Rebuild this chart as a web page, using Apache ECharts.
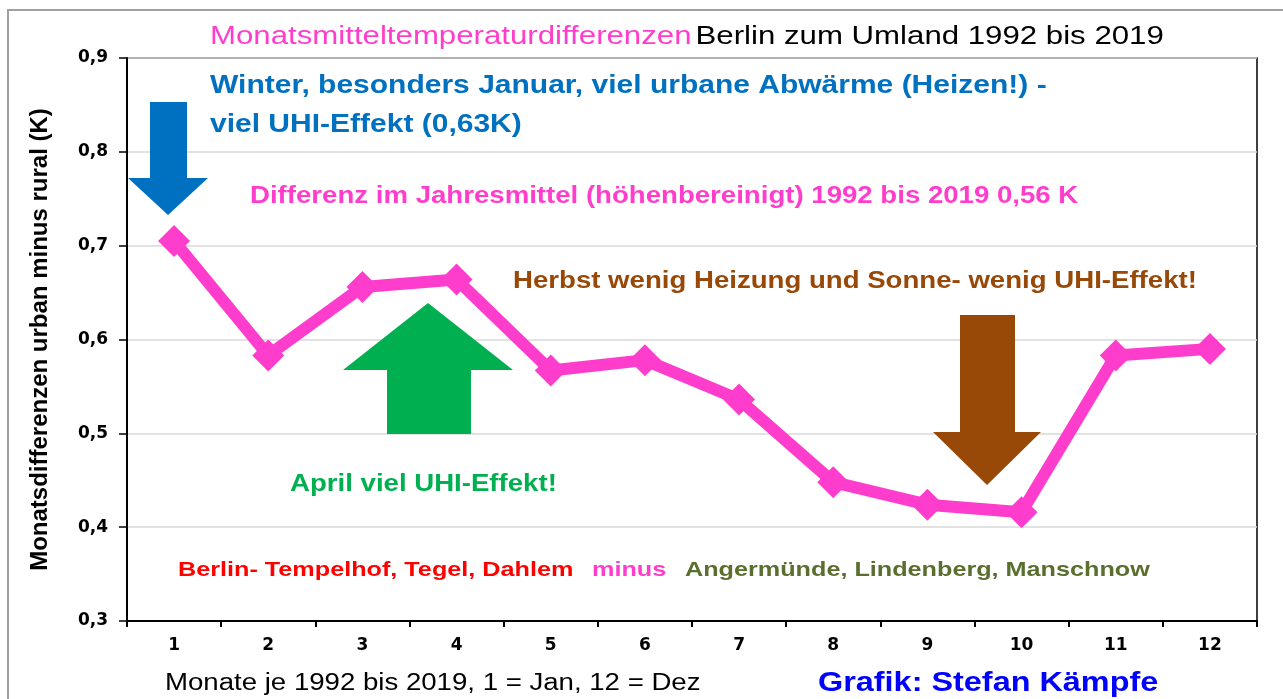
<!DOCTYPE html>
<html>
<head>
<meta charset="utf-8">
<script src="https://cdn.jsdelivr.net/npm/echarts@6/dist/echarts.min.js"></script>
<style>
  html, body { margin: 0; padding: 0; background: #fff; }
  #main { width: 1283px; height: 699px; }
</style>
</head>
<body>
<div id="main"></div>
<script>
// Monate 1..12
var monate = ['1', '2', '3', '4', '5', '6', '7', '8', '9', '10', '11', '12'];
// Differenz urban minus rural (K)
var differenz = [0.705, 0.583, 0.656, 0.664, 0.567, 0.578, 0.536, 0.448, 0.424, 0.416, 0.583, 0.590];
var yTicks = [0.3, 0.4, 0.5, 0.6, 0.7, 0.8, 0.9];

var pink = '#ff3dcc';
var font = 'Liberation Sans, Arial, sans-serif';
var stretch = 1.2; // Vorlage ist horizontal gestreckt

var myChart = echarts.init(document.getElementById('main'));

// Textbaustein, links ausgerichtet, vertikal mittig
function txt(x, y, text, color, size, weight) {
    return {
        type: 'text', x: x, y: y, scaleX: stretch, z: 10,
        style: {
            text: text, fill: color,
            font: (weight || 'bold') + ' ' + size + 'px ' + font,
            verticalAlign: 'middle'
        }
    };
}

var option = {
    backgroundColor: '#fff',
    animation: false,
    grid: {
        left: 127, right: 26, top: 58, bottom: 78,
        show: true, borderColor: '#000', borderWidth: 1.5
    },
    xAxis: {
        type: 'category',
        data: monate,
        boundaryGap: true,
        axisLine: { lineStyle: { color: '#000', width: 2 } },
        axisTick: { show: true, length: 6, lineStyle: { color: '#000', width: 2 } },
        axisLabel: { color: '#000', fontSize: 17, fontWeight: 'bold', fontFamily: 'DejaVu Sans', margin: 16 },
        splitLine: { show: false }
    },
    yAxis: {
        type: 'value',
        min: yTicks[0],
        max: yTicks[yTicks.length - 1],
        interval: 0.1,
        name: 'Monatsdifferenzen urban minus rural (K)',
        nameLocation: 'middle',
        nameGap: 75,
        nameTextStyle: { color: '#000', fontSize: 24, fontWeight: 'bold', fontFamily: font },
        axisLine: { show: true, lineStyle: { color: '#000', width: 2 } },
        axisTick: { show: true, inside: false, length: 8, lineStyle: { color: '#000', width: 1.5 } },
        axisLabel: {
            color: '#000', fontSize: 17, fontWeight: 'bold', fontFamily: 'DejaVu Sans', margin: 19,
            formatter: function (v) { return v.toFixed(1).replace('.', ','); }
        },
        splitLine: { show: true, lineStyle: { color: '#d9d9d9', width: 1.5 } }
    },
    series: [{
        type: 'line',
        data: differenz,
        symbol: 'diamond',
        symbolSize: 32,
        itemStyle: { color: pink },
        lineStyle: { color: pink, width: 12 },
        z: 3
    }],
    graphic: [
        // äußerer Rahmen
        { type: 'rect', shape: { x: 8, y: 10, width: 1300, height: 720 }, style: { fill: null, stroke: '#a0a0a0', lineWidth: 2 }, z: 0, silent: true },
        // Titel
        {
            type: 'text', x: 210, y: 37, scaleX: stretch, z: 10,
            style: {
                text: '{a|Monatsmitteltemperaturdifferenzen} {b|Berlin zum Umland 1992 bis 2019}',
                verticalAlign: 'middle',
                rich: {
                    a: { fill: pink, fontSize: 26, fontFamily: font },
                    b: { fill: '#000', fontSize: 26, fontFamily: font }
                }
            }
        },
        // blauer Pfeil (Winter)
        { type: 'polygon', shape: { points: [[150, 102], [187, 102], [187, 178], [208, 178], [168, 215], [128, 178], [150, 178]] }, style: { fill: '#0070c0' }, z: 5 },
        // grüner Pfeil (April)
        { type: 'polygon', shape: { points: [[387, 434], [471, 434], [471, 370], [513, 370], [428, 303], [343, 370], [387, 370]] }, style: { fill: '#00b050' }, z: 5 },
        // brauner Pfeil (Herbst)
        { type: 'polygon', shape: { points: [[960, 315], [1015, 315], [1015, 432], [1041, 432], [987, 485], [933, 432], [960, 432]] }, style: { fill: '#984807' }, z: 5 },
        txt(210, 86, 'Winter, besonders Januar, viel urbane Abwärme (Heizen!) -', '#0070c0', 25),
        txt(210, 125, 'viel UHI-Effekt (0,63K)', '#0070c0', 25),
        txt(250, 197, 'Differenz im Jahresmittel (höhenbereinigt) 1992 bis 2019 0,56 K', pink, 23),
        txt(513, 282, 'Herbst wenig Heizung und Sonne- wenig UHI-Effekt!', '#984807', 23),
        txt(290, 485, 'April viel UHI-Effekt!', '#00b050', 23),
        txt(178, 570, 'Berlin- Tempelhof, Tegel, Dahlem', '#ff0000', 21),
        txt(592, 570, 'minus', pink, 21),
        txt(685, 570, 'Angermünde, Lindenberg, Manschnow', '#5a6e2e', 21),
        txt(165, 684, 'Monate je 1992 bis 2019, 1 = Jan, 12 = Dez', '#000', 23, 'normal'),
        txt(818, 684, 'Grafik: Stefan Kämpfe', '#0000ff', 27)
    ]
};

myChart.setOption(option);
</script>
</body>
</html>
